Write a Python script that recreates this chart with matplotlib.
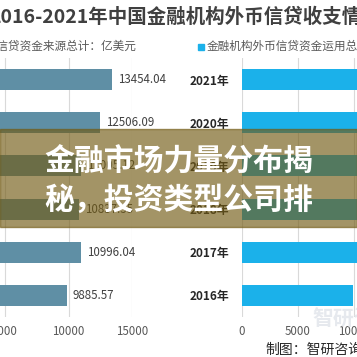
import matplotlib
matplotlib.use("Agg")
import matplotlib.pyplot as plt
from matplotlib.patches import Rectangle

plt.rcParams['font.family'] = ['Noto Sans CJK SC', 'DejaVu Sans']

years = ['2016年', '2017年', '2018年', '2019年', '2020年', '2021年']
sources = [9885.57, 10996.04, 10837.55, 11005.12, 12506.09, 13454.04]
uses = [9885.57, 10996.04, 10837.55, 11005.12, 12506.09, 13454.04]
left_ticks = [0, 5000, 10000, 15000]
right_ticks = [0, 5000, 10000, 15000, 20000]

W = H = 357.0


def box(x0, y0, x1, y1):
    # pixel box (top-left origin) -> figure fraction rect
    return [x0 / W, (H - y1) / H, (x1 - x0) / W, (y1 - y0) / H]


fig = plt.figure(figsize=(3.57, 3.57), dpi=100)
fig.patch.set_facecolor("white")

ax1 = fig.add_axes(box(-58.5, 58, 132, 317))
ax2 = fig.add_axes(box(242, 58, 466, 317))

pos = list(range(len(years)))

ax1.barh(pos, sources, height=0.49, color="#5F8FA5", zorder=2)
for p, v in zip(pos, sources):
    ax1.text(v + 450, p, f"{v:.2f}", va="center", ha="left",
             fontsize=8.3, color="#404040")
ax1.set_xlim(0, 15000)
ax1.set_xticks(left_ticks)
ax1.set_yticks([])

ax2.barh(pos, uses, height=0.49, color="#1BB1EA", zorder=2)
ax2.set_xlim(0, 20000)
ax2.set_xticks(right_ticks)
ax2.set_yticks(pos)
ax2.set_yticklabels(years, fontweight="bold", fontsize=8.5, color="#262626")

for ax in (ax1, ax2):
    ax.set_ylim(-0.5, len(years) - 0.5)
    ax.grid(axis="x", color="#D9D9D9", linewidth=0.8, zorder=0)
    ax.set_axisbelow(True)
    for s in ax.spines.values():
        s.set_visible(False)
    ax.tick_params(axis="x", length=0, pad=6, labelsize=8.3, labelcolor="#595959")
    ax.tick_params(axis="y", length=0, pad=9)
    ax.patch.set_alpha(0)

# title and legend texts (cropped at the edges)
fig.text(-11 / W, 1 - 17 / H, "2016-2021年中国金融机构外币信贷收支情况",
         ha="left", va="center", fontsize=14.0, fontweight="bold", color="#404040")
fig.text(137 / W, 1 - 46 / H, "■金融机构外币信贷资金来源总计：亿美元",
         ha="right", va="center", fontsize=8.4, color="#595959")
fig.add_artist(Rectangle((198 / W, 1 - 50 / H), 6 / W, 6 / H,
                         transform=fig.transFigure, color="#1BB1EA"))
fig.text(207 / W, 1 - 46 / H, "金融机构外币信贷资金运用总计：亿美元",
         ha="left", va="center", fontsize=8.4, color="#595959")

# watermark and source
fig.text(312 / W, 1 - 318 / H, "智研咨询", ha="left", va="center",
         fontsize=15, color="#E6E9EE", fontweight="bold")
fig.text(265 / W, 1 - 350 / H, "制图：智研咨询", ha="left", va="center",
         fontsize=10, color="#262626")

# overlay banner
fig.add_artist(Rectangle((0, 1 - 227 / H), 1, 98 / H, transform=fig.transFigure,
                         color="#725B14", alpha=0.65, zorder=10))
fig.text(0.5, 1 - 162 / H, "金融市场力量分布揭", ha="center", va="center",
         fontsize=21.5, fontweight="heavy", color="white", zorder=11)
fig.text(0.5, 1 - 200 / H, "秘，投资类型公司排", ha="center", va="center",
         fontsize=21.5, fontweight="heavy", color="white", zorder=11)

fig.savefig("out.png", dpi=100)
